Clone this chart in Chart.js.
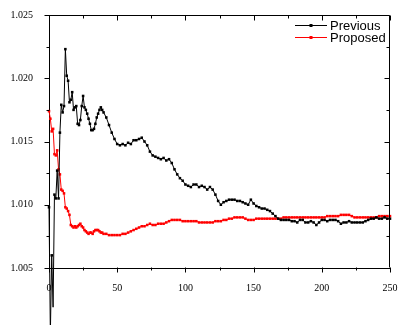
<!DOCTYPE html>
<html>
<head>
<meta charset="utf-8">
<script src="https://cdn.jsdelivr.net/npm/chart.js@4.4.0/dist/chart.umd.min.js"></script>
<style>
  html, body { margin: 0; padding: 0; background: #fff; }
</style>
</head>
<body>
<canvas id="c" width="398" height="325"></canvas>
<script>
// x positions of the samples (1 step at the start, 2 steps after)
const xs = [
  0, 1, 2, 3, 4, 5, 6, 7, 8, 9,
  10, 11, 12, 13, 14, 15, 16, 17, 18, 19,
  20, 21, 22, 23, 24, 25, 26, 27, 28, 29,
  30, 31, 32, 33, 34, 35, 36, 37, 38, 39,
  40,
  42, 44, 46, 48, 50, 52, 54, 56, 58, 60,
  62, 64, 66, 68, 70, 72, 74, 76, 78, 80,
  82, 84, 86, 88, 90, 92, 94, 96, 98, 100,
  102, 104, 106, 108, 110, 112, 114, 116, 118, 120,
  122, 124, 126, 128, 130, 132, 134, 136, 138, 140,
  142, 144, 146, 148, 150, 152, 154, 156, 158, 160,
  162, 164, 166, 168, 170, 172, 174, 176, 178, 180,
  182, 184, 186, 188, 190, 192, 194, 196, 198, 200,
  202, 204, 206, 208, 210, 212, 214, 216, 218, 220,
  222, 224, 226, 228, 230, 232, 234, 236, 238, 240,
  242, 244, 246, 248, 250
];

const previous = [
  1.0098, 0.9998, 1.0060, 1.0019, 1.0108, 1.0105, 1.0127, 1.0105, 1.0157, 1.0179,
  1.0173, 1.0178, 1.0223, 1.0202, 1.0198, 1.0181, 1.0183, 1.0189, 1.0175, 1.0177,
  1.0178, 1.0164, 1.0163, 1.0167, 1.0178, 1.0186, 1.0177, 1.0175, 1.0172, 1.0168,
  1.0164, 1.0159, 1.0159, 1.0160, 1.0164, 1.0169, 1.0172, 1.0175, 1.0177, 1.0175,
  1.0173,
  1.0169, 1.0163, 1.0157, 1.0152, 1.0148, 1.0147, 1.0148, 1.0147, 1.0149, 1.0148,
  1.0151, 1.0151, 1.0152, 1.0153, 1.0150, 1.0147, 1.0142, 1.0139, 1.0138, 1.0137,
  1.0136, 1.0137, 1.0135, 1.0136, 1.0133, 1.0128, 1.0124, 1.0121, 1.0119, 1.0116,
  1.0115, 1.0114, 1.0116, 1.0116, 1.0114, 1.0115, 1.0114, 1.0112, 1.0114, 1.0112,
  1.0108, 1.0103, 1.0100, 1.0102, 1.0103, 1.0104, 1.0104, 1.0104, 1.0103, 1.0103,
  1.0102, 1.0101, 1.0100, 1.0104, 1.0101, 1.0099, 1.0098, 1.0097, 1.0097, 1.0096,
  1.0095, 1.0093, 1.0091, 1.0089, 1.0088, 1.0088, 1.0088, 1.0088, 1.0087, 1.0087,
  1.0086, 1.0088, 1.0088, 1.0086, 1.0086, 1.0087, 1.0086, 1.0084, 1.0086, 1.0088,
  1.0088, 1.0087, 1.0088, 1.0088, 1.0088, 1.0087, 1.0085, 1.0086, 1.0086, 1.0087,
  1.0086, 1.0086, 1.0086, 1.0086, 1.0086, 1.0087, 1.0088, 1.0089, 1.0089, 1.0090,
  1.0089, 1.0089, 1.0090, 1.0089, 1.0089
];

const proposed = [
  1.0174, 1.0168, 1.0158, 1.0160, 1.0140, 1.0139, 1.0143, 1.0128, 1.0124, 1.0112,
  1.0111, 1.0109, 1.0098, 1.0097, 1.0095, 1.0092, 1.0084, 1.0083, 1.0082, 1.0083,
  1.0082, 1.0083, 1.0084, 1.0085, 1.0083, 1.0082, 1.0080, 1.0079, 1.0078, 1.0077,
  1.0078, 1.0078, 1.0077, 1.0079, 1.0080, 1.0080, 1.0080, 1.0079, 1.0078, 1.0078,
  1.0077,
  1.0077, 1.0076, 1.0076, 1.0076, 1.0076, 1.0076, 1.0077, 1.0077, 1.0078, 1.0079,
  1.0080, 1.0081, 1.0082, 1.0083, 1.0083, 1.0084, 1.0085, 1.0084, 1.0084, 1.0085,
  1.0085, 1.0085, 1.0086, 1.0087, 1.0088, 1.0088, 1.0088, 1.0088, 1.0087, 1.0087,
  1.0087, 1.0087, 1.0087, 1.0087, 1.0086, 1.0086, 1.0086, 1.0086, 1.0086, 1.0086,
  1.0087, 1.0087, 1.0087, 1.0088, 1.0088, 1.0089, 1.0089, 1.0090, 1.0090, 1.0090,
  1.0090, 1.0089, 1.0088, 1.0088, 1.0088, 1.0089, 1.0089, 1.0089, 1.0089, 1.0089,
  1.0089, 1.0089, 1.0089, 1.0089, 1.0089, 1.0090, 1.0090, 1.0090, 1.0090, 1.0090,
  1.0090, 1.0090, 1.0090, 1.0090, 1.0090, 1.0090, 1.0090, 1.0090, 1.0090, 1.0090,
  1.0090, 1.0091, 1.0091, 1.0091, 1.0091, 1.0091, 1.0092, 1.0092, 1.0092, 1.0092,
  1.0091, 1.0090, 1.0090, 1.0090, 1.0090, 1.0090, 1.0090, 1.0090, 1.0090, 1.0090,
  1.0091, 1.0091, 1.0091, 1.0091, 1.0091
];

const seriesNames = ["Previous", "Proposed"];
const seriesColors = ["#000000", "#ff0000"];

const xMajor = [0, 50, 100, 150, 200, 250];
const xMinor = [25, 75, 125, 175, 225];
const yMajor = [1.005, 1.010, 1.015, 1.020, 1.025];
const yMinor = [1.0075, 1.0125, 1.0175, 1.0225];

const toPoints = (vals) => vals.map((v, i) => ({ x: xs[i], y: v }));

// frame: top/right lines, inward ticks on top/right, outward ticks on bottom/left
const frameTicks = {
  id: "frameTicks",
  afterDraw(chart) {
    const { ctx, chartArea: a, scales: { x, y } } = chart;
    const L = Math.round(a.left) + 0.5, R = Math.round(a.right) - 0.5;
    const T = Math.round(a.top) + 0.5, B = Math.round(a.bottom) - 0.5;
    ctx.save();
    ctx.strokeStyle = "#000";
    ctx.lineWidth = 1;
    ctx.beginPath();
    ctx.moveTo(L, T); ctx.lineTo(R, T); ctx.lineTo(R, B);
    const xt = (v, len) => {
      const p = Math.round(x.getPixelForValue(v)) + 0.5;
      ctx.moveTo(p, B); ctx.lineTo(p, B + len);
      ctx.moveTo(p, T); ctx.lineTo(p, T + len);
    };
    const yt = (v, len) => {
      const p = Math.round(y.getPixelForValue(v)) + 0.5;
      ctx.moveTo(L, p); ctx.lineTo(L - len, p);
      ctx.moveTo(R, p); ctx.lineTo(R - len, p);
    };
    xMajor.forEach(v => xt(v, 5));
    xMinor.forEach(v => xt(v, 3));
    yMajor.forEach(v => yt(v, 5));
    yMinor.forEach(v => yt(v, 3));
    ctx.stroke();

    // legend, top right inside the frame
    ctx.font = "13px 'Liberation Sans', Arial, sans-serif";
    ctx.textBaseline = "middle";
    ctx.textAlign = "left";
    chart.data.datasets.forEach((ds, i) => {
      const ly = 25.5 + i * 12;
      ctx.strokeStyle = ds.borderColor;
      ctx.beginPath();
      ctx.moveTo(295, ly); ctx.lineTo(327, ly);
      ctx.stroke();
      ctx.fillStyle = ds.borderColor;
      ctx.fillRect(309.5, ly - 1.5, 3, 3);
      ctx.fillStyle = "#000";
      ctx.fillText(ds.label, 330, ly + 1);
    });
    ctx.restore();
  }
};

const tickFont = { family: "'Liberation Serif', 'Times New Roman', serif", size: 10 };

new Chart(document.getElementById("c"), {
  type: "line",
  data: {
    datasets: [
      {
        label: seriesNames[0],
        data: toPoints(previous),
        borderColor: seriesColors[0],
        backgroundColor: seriesColors[0],
        borderWidth: 1,
        pointStyle: "rect",
        pointRadius: 1.8,
        pointBorderWidth: 0,
        tension: 0,
        clip: false
      },
      {
        label: seriesNames[1],
        data: toPoints(proposed),
        borderColor: seriesColors[1],
        backgroundColor: seriesColors[1],
        borderWidth: 1,
        pointStyle: "rect",
        pointRadius: 1.8,
        pointBorderWidth: 0,
        tension: 0,
        clip: false
      }
    ]
  },
  options: {
    responsive: false,
    animation: false,
    devicePixelRatio: 1,
    layout: { padding: { top: 15, right: 8, left: 0, bottom: 0 } },
    plugins: { legend: { display: false }, tooltip: { enabled: false } },
    scales: {
      x: {
        type: "linear",
        min: 0,
        max: 250,
        afterFit: (s) => { s.height = 57; s.paddingLeft = 0; s.paddingRight = 0; },
        grid: { display: false, drawTicks: false },
        border: { display: true, color: "#000", width: 1 },
        ticks: {
          stepSize: 50,
          padding: 14,
          color: "#000",
          font: tickFont,
          maxRotation: 0,
          callback: (v) => String(v)
        }
      },
      y: {
        min: 1.005,
        max: 1.025,
        afterFit: (s) => { s.width = 49; s.paddingTop = 0; s.paddingBottom = 0; },
        grid: { display: false, drawTicks: false },
        border: { display: true, color: "#000", width: 1 },
        ticks: {
          stepSize: 0.005,
          padding: 16,
          color: "#000",
          font: tickFont,
          callback: (v) => Number(v).toFixed(3)
        }
      }
    }
  },
  plugins: [frameTicks]
});
</script>
</body>
</html>
